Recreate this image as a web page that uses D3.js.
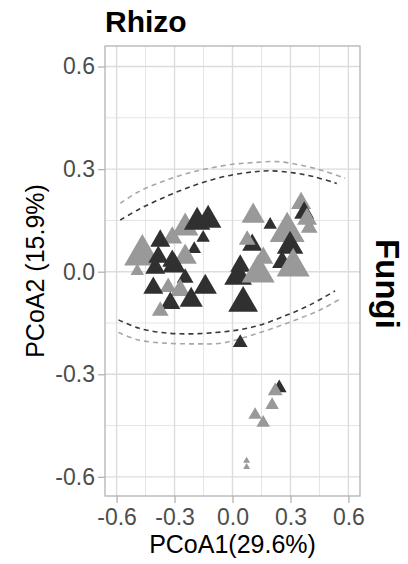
<!DOCTYPE html>
<html>
<head>
<meta charset="utf-8">
<script src="https://cdn.jsdelivr.net/npm/d3@7"></script>
<style>
  body { margin: 0; background: #fff; }
  svg { display: block; font-family: "Liberation Sans", Arial, sans-serif; }
</style>
</head>
<body>
<div id="chart"></div>
<script>
// PCoA scores (x = PCoA1, y = PCoA2)
const groups = ["A", "B"];            // A = dark, B = light grey
const pcoa1 = [-0.467, -0.493, -0.245, -0.312, -0.374, -0.384, -0.183, -0.126, -0.152, -0.198,
               -0.245, -0.312, -0.302, -0.400, -0.245, -0.333, -0.271, -0.410, -0.141, -0.322,
               -0.214, -0.374, 0.040,
               0.040, 0.029, 0.133, 0.055, 0.102, 0.076, 0.107, 0.195, 0.283, 0.298, 0.257,
               0.159, 0.314, 0.355, 0.371, 0.386, 0.397,
               0.242, 0.221, 0.205, 0.117, 0.159, 0.073, 0.073];
const pcoa2 = [0.049, 0.002, 0.128, 0.099, 0.090, 0.043, 0.145, 0.151, 0.099, 0.066,
               0.043, 0.031, 0.017, 0.011, -0.018, -0.045, -0.054, -0.048, -0.045, -0.092,
               -0.083, -0.115, -0.208,
               0.017, -0.015, -0.004, -0.092, 0.078, 0.093, 0.163, 0.137, 0.116, 0.075, 0.028,
               0.040, 0.014, 0.200, 0.172, 0.154, 0.128,
               -0.340, -0.349, -0.390, -0.419, -0.442, -0.553, -0.571];
const group = ["B", "B", "B", "B", "A", "A", "A", "A", "A", "A",
               "B", "A", "A", "A", "A", "B", "B", "A", "A", "A",
               "A", "B", "A",
               "A", "A", "B", "A", "A", "B", "B", "A", "B", "A", "A",
               "B", "B", "B", "A", "B", "B",
               "A", "B", "B", "B", "B", "B", "B"];
const weight = [5.5, 2, 4, 3, 3, 3, 4, 4, 2, 2,
                3.5, 3, 3.5, 3, 2.5, 2.5, 3, 3, 3.5, 3,
                3.5, 2.5, 2.2,
                3, 4.2, 5, 4.5, 3, 2.5, 3.5, 2, 5.3, 4, 3,
                3, 5, 3, 3, 3, 2.5,
                2.2, 2.2, 2, 2, 2, 1, 1];

// 95% ellipse outlines, split where they leave the panel
const ellipseA = {
  upper: [[-0.581, 0.151], [-0.486, 0.182], [-0.383, 0.210], [-0.262, 0.239], [-0.141, 0.263],
          [-0.003, 0.283], [0.109, 0.292], [0.195, 0.295], [0.316, 0.289], [0.419, 0.278], [0.540, 0.258]],
  lower: [[-0.590, -0.141], [-0.486, -0.165], [-0.365, -0.178], [-0.228, -0.182], [-0.089, -0.178],
          [0.031, -0.170], [0.143, -0.156], [0.281, -0.127], [0.402, -0.097], [0.531, -0.056]]
};
const ellipseB = {
  upper: [[-0.581, 0.200], [-0.486, 0.234], [-0.365, 0.263], [-0.245, 0.286], [-0.124, 0.302],
          [0.014, 0.315], [0.109, 0.319], [0.230, 0.322], [0.350, 0.312], [0.471, 0.295], [0.583, 0.273]],
  lower: [[-0.590, -0.178], [-0.486, -0.200], [-0.348, -0.209], [-0.193, -0.211], [-0.055, -0.209],
          [0.074, -0.190], [0.212, -0.165], [0.350, -0.136], [0.460, -0.110], [0.562, -0.078]]
};

const majorTicks = [-0.6, -0.3, 0.0, 0.3, 0.6];
const minorTicks = [-0.45, -0.15, 0.15, 0.45];

const W = 408, H = 564;
const panel = { left: 105, right: 360, top: 46, bottom: 496 };

const svg = d3.select("#chart").append("svg")
    .attr("width", W)
    .attr("height", H);

const x = d3.scaleLinear().domain([-0.66, 0.66]).range([panel.left, panel.right]);
const y = d3.scaleLinear().domain([-0.656, 0.66]).range([panel.bottom, panel.top]);
const color = d3.scaleOrdinal().domain(groups).range(["#303030", "#999999"]);
const width = d3.scaleLinear().domain([1, 5]).range([7, 33]);

// grid
const grid = svg.append("g");
grid.selectAll(".minx").data(minorTicks).join("line")
    .attr("x1", d => x(d)).attr("x2", d => x(d))
    .attr("y1", panel.top).attr("y2", panel.bottom)
    .attr("stroke", "#e4e4e4").attr("stroke-width", 1);
grid.selectAll(".miny").data(minorTicks).join("line")
    .attr("y1", d => y(d)).attr("y2", d => y(d))
    .attr("x1", panel.left).attr("x2", panel.right)
    .attr("stroke", "#e4e4e4").attr("stroke-width", 1);
grid.selectAll(".majx").data(majorTicks).join("line")
    .attr("x1", d => x(d)).attr("x2", d => x(d))
    .attr("y1", panel.top).attr("y2", panel.bottom)
    .attr("stroke", "#dcdcdc").attr("stroke-width", 1.4);
grid.selectAll(".majy").data(majorTicks).join("line")
    .attr("y1", d => y(d)).attr("y2", d => y(d))
    .attr("x1", panel.left).attr("x2", panel.right)
    .attr("stroke", "#dcdcdc").attr("stroke-width", 1.4);

// ellipses
const line = d3.line().x(d => x(d[0])).y(d => y(d[1])).curve(d3.curveCatmullRom);
[[ellipseB, "#a8a8a8"], [ellipseA, "#3a3a3a"]].forEach(([e, c]) => {
    [e.upper, e.lower].forEach(arc => {
        svg.append("path")
            .attr("d", line(arc))
            .attr("fill", "none")
            .attr("stroke", c)
            .attr("stroke-width", 1.6)
            .attr("stroke-dasharray", "5,4");
    });
});

// points
const pts = pcoa1.map((v, i) => ({ x: v, y: pcoa2[i], g: group[i], w: weight[i] }));
const sym = d3.symbol().type(d3.symbolTriangle);
svg.append("g").selectAll("path").data(pts).join("path")
    .attr("transform", d => `translate(${x(d.x)},${y(d.y)})`)
    .attr("d", d => sym.size(Math.sqrt(3) / 4 * Math.pow(width(d.w), 2))())
    .attr("fill", d => color(d.g));

// panel border
svg.append("rect")
    .attr("x", panel.left).attr("y", panel.top)
    .attr("width", panel.right - panel.left).attr("height", panel.bottom - panel.top)
    .attr("fill", "none").attr("stroke", "#b3b3b3").attr("stroke-width", 1.3);

// axes
const xAxis = d3.axisBottom(x).tickValues(majorTicks).tickFormat(d3.format(".1f")).tickSize(7).tickPadding(6);
const yAxis = d3.axisLeft(y).tickValues(majorTicks).tickFormat(d3.format(".1f")).tickSize(7).tickPadding(3);

const gx = svg.append("g").attr("transform", `translate(0,${panel.bottom})`).call(xAxis);
const gy = svg.append("g").attr("transform", `translate(${panel.left},0)`).call(yAxis);
[gx, gy].forEach(g => {
    g.select(".domain").remove();
    g.selectAll(".tick line").attr("stroke", "#b3b3b3").attr("stroke-width", 1.3);
    g.selectAll(".tick text").attr("fill", "#4d4d4d").style("font-size", "23px")
        .style("font-family", "'Liberation Sans', Arial, sans-serif");
});
gx.selectAll(".tick text").text(d => d3.format(".1f")(d).replace("−", "-"));
gy.selectAll(".tick text").text(d => d3.format(".1f")(d).replace("−", "-"));

// titles
svg.append("text")
    .attr("x", panel.left).attr("y", 32)
    .style("font-size", "30px").style("font-weight", "bold")
    .text("Rhizo");

svg.append("text")
    .attr("x", (panel.left + panel.right) / 2).attr("y", 553)
    .attr("text-anchor", "middle")
    .style("font-size", "25px")
    .text("PCoA1(29.6%)");

svg.append("text")
    .attr("transform", `translate(44,${(panel.top + panel.bottom) / 2}) rotate(-90)`)
    .attr("text-anchor", "middle")
    .style("font-size", "25px")
    .text("PCoA2 (15.9%)");

svg.append("text")
    .attr("transform", `translate(376,284) rotate(90)`)
    .attr("text-anchor", "middle")
    .style("font-size", "33px").style("font-weight", "bold")
    .text("Fungi");
</script>
</body>
</html>
